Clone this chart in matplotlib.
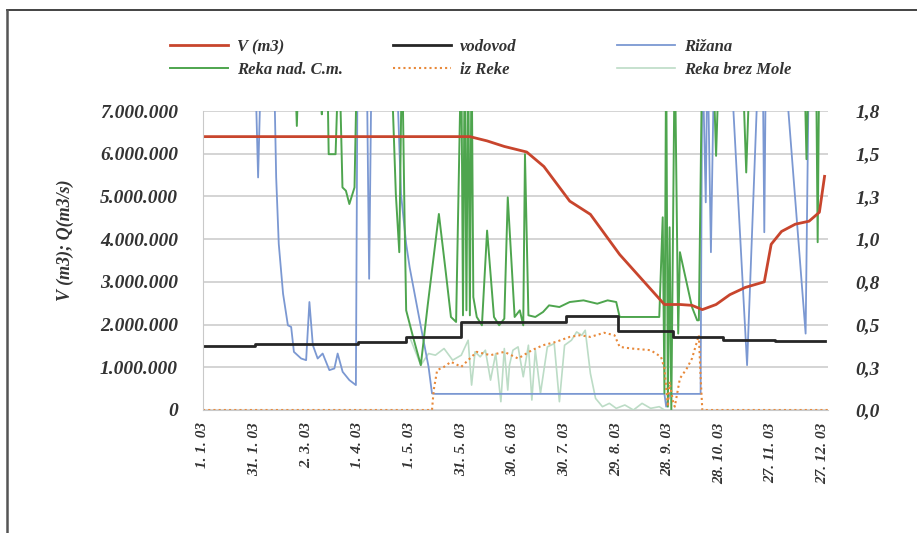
import matplotlib.pyplot as plt
import numpy as np
from matplotlib.lines import Line2D

plt.rcParams['font.family'] = ['Liberation Serif', 'DejaVu Serif']

# day of year 2003 (0 = 1. 1. 03)
tick_days = [0, 30, 60, 90, 120, 150, 180, 210, 240, 270, 300, 330, 360]
tick_labels = ['1. 1. 03', '31. 1. 03', '2. 3. 03', '1. 4. 03', '1. 5. 03', '31. 5. 03',
               '30. 6. 03', '30. 7. 03', '29. 8. 03', '28. 9. 03', '28. 10. 03',
               '27. 11. 03', '27. 12. 03']

v_ticks = [0, 1e6, 2e6, 3e6, 4e6, 5e6, 6e6, 7e6]
v_tick_labels = ['0', '1.000.000', '2.000.000', '3.000.000', '4.000.000',
                 '5.000.000', '6.000.000', '7.000.000']
q_tick_labels = ['0,0', '0,3', '0,5', '0,8', '1,0', '1,3', '1,5', '1,8']

# V (m3) - reservoir volume
v_day = [0, 155, 165, 175, 188, 198, 213, 225, 242, 268, 277, 284, 290, 298, 306,
         315, 326, 330, 336, 344, 352, 358, 361]
v_val = [6.4e6, 6.4e6, 6.3e6, 6.17e6, 6.04e6, 5.7e6, 4.89e6, 4.58e6, 3.64e6, 2.47e6,
         2.47e6, 2.45e6, 2.35e6, 2.47e6, 2.70e6, 2.87e6, 3.0e6, 3.88e6, 4.18e6,
         4.35e6, 4.42e6, 4.63e6, 5.47e6]

# vodovod (m3/s), step series
vod_day = [0, 30, 90, 118, 150, 211, 241, 273, 302, 332, 361]
vod_val = [0.386, 0.399, 0.411, 0.437, 0.527, 0.566, 0.476, 0.437, 0.424, 0.417, 0.417]

# Rizana (m3/s); values above 1.8 run off the top
riz_day = [0, 30, 32, 34, 41, 42.5, 44, 46.5, 49.3, 51.2, 52.8, 57, 59.9, 61.8, 63.8,
           66.6, 69.5, 73.4, 76.3, 78.2, 81.1, 85, 88.8, 89.8, 95, 96.5, 98, 112, 115,
           118, 120, 125, 131, 133, 135, 268, 269, 271, 289, 290, 292, 293, 295, 297,
           306, 316, 323, 325, 326, 327, 337, 350, 352, 363]
riz_val = [2.2, 2.2, 1.40, 2.2, 2.2, 1.4, 1.0, 0.7, 0.51, 0.50, 0.35, 0.31, 0.30, 0.65,
           0.39, 0.31, 0.34, 0.24, 0.25, 0.34, 0.23, 0.18, 0.15, 2.2, 2.2, 0.79, 2.2,
           2.2, 1.3, 1.0, 0.86, 0.585, 0.26, 0.10, 0.097, 0.097, 0.02, 0.097, 0.097,
           2.2, 1.25, 2.2, 0.95, 2.2, 2.2, 0.27, 2.2, 2.2, 1.07, 2.2, 2.2, 0.46, 2.2, 2.2]

# Reka nad C.m. (m3/s)
reka_day = [0, 53, 54.5, 56, 68.5, 69, 69.5, 72, 73, 77, 79, 81, 83, 85, 88, 89.6, 109,
            112, 114, 115.6, 117, 118, 122, 126.5, 130.5, 137, 141, 144, 147, 150, 151,
            152, 153, 154, 155, 156, 157, 159, 162, 165, 169, 172, 175, 177, 181, 184,
            186, 187, 189, 193, 197.5, 201, 207, 213, 221, 229, 235, 240, 242, 265, 267,
            268, 269, 270, 271, 272, 274, 276, 277, 284, 287, 288, 290, 296, 298, 300,
            313, 315.5, 318, 349, 350.5, 352, 356, 357, 358, 363]
reka_val = [2.2, 2.2, 1.71, 2.2, 2.2, 1.78, 2.2, 2.2, 1.54, 1.54, 2.2, 1.34, 1.32, 1.24,
            1.34, 2.2, 2.2, 1.3, 0.95, 2.2, 1.2, 0.6, 0.44, 0.27, 0.63, 1.18, 0.83, 0.56,
            0.53, 2.2, 0.57, 2.2, 0.6, 2.2, 0.57, 2.2, 0.68, 0.56, 0.51, 1.08, 0.56, 0.51,
            0.55, 1.28, 0.56, 0.6, 0.51, 1.54, 0.57, 0.56, 0.59, 0.63, 0.62, 0.65, 0.66,
            0.64, 0.66, 0.65, 0.56, 0.56, 1.16, 0.1, 2.2, 0.02, 1.1, 0.0, 2.2, 0.46, 0.95,
            0.62, 0.54, 0.54, 2.2, 2.2, 1.53, 2.2, 2.2, 1.43, 2.2, 2.2, 1.51, 2.2, 2.2,
            1.01, 2.2, 2.2]

# iz Reke (m3/s)
iz_day = [0, 133, 134, 136, 140, 144, 150, 155, 159, 167, 175, 183, 191, 197.5, 205, 213,
          219, 225, 233, 239, 242, 249, 260, 266, 268, 270, 271, 273, 274, 277, 281, 284,
          288, 289, 290, 363]
iz_val = [0, 0, 0.12, 0.24, 0.26, 0.29, 0.26, 0.31, 0.35, 0.33, 0.35, 0.31, 0.36, 0.39,
          0.41, 0.44, 0.45, 0.44, 0.465, 0.45, 0.38, 0.37, 0.36, 0.32, 0.25, 0.02, 0.17,
          0.05, 0.02, 0.19, 0.25, 0.31, 0.45, 0.2, 0.0, 0.0]

# Reka brez Mole (m3/s)
brez_day = [120, 126.5, 131, 135, 140, 145, 150, 154, 156, 158, 161, 164, 167, 170, 173,
            175, 177, 178, 180, 183, 186, 189, 191, 193, 196, 200, 204, 207, 210, 214, 217,
            220, 222, 225, 228, 232, 236, 240, 245, 250, 255, 260, 265, 268]
brez_val = [0.44, 0.27, 0.34, 0.33, 0.37, 0.30, 0.33, 0.42, 0.15, 0.35, 0.32, 0.36, 0.18,
            0.34, 0.05, 0.37, 0.12, 0.27, 0.36, 0.38, 0.20, 0.39, 0.06, 0.36, 0.10, 0.38,
            0.40, 0.05, 0.39, 0.42, 0.47, 0.45, 0.48, 0.22, 0.07, 0.02, 0.04, 0.01, 0.03,
            0.00, 0.04, 0.01, 0.02, 0.0]

fig = plt.figure(figsize=(9.17, 5.33), dpi=100)
ax = fig.add_axes([203 / 917, 1 - 410 / 533, 625 / 917, 299 / 533])
ax2 = ax.twinx()
ax.set_zorder(ax2.get_zorder() + 1)
ax.patch.set_visible(False)

grid_c = '#c9c9c9'
ax2.set_axisbelow(True)
ax2.set_yticks(np.linspace(0, 1.8, 8))
ax2.set_yticklabels(q_tick_labels)
ax2.set_ylim(0, 1.8)
ax2.grid(True, axis='both', color=grid_c, lw=1.1)
ax2.set_xticks(tick_days)

c_red = '#c8452d'
c_blk = '#262626'
c_blue = '#7b98d2'
c_green = '#4ea54e'
c_pale = '#bcdcc6'
c_orng = '#e8893a'

l_brez, = ax2.plot(brez_day, brez_val, color=c_pale, lw=1.2, label='Reka brez Mole')
l_riz, = ax2.plot(riz_day, riz_val, color=c_blue, lw=1.3, label='Rižana')
l_reka, = ax2.plot(reka_day, reka_val, color=c_green, lw=1.4, label='Reka nad. C.m.')
l_iz, = ax2.plot(iz_day, iz_val, color=c_orng, lw=1.5, ls=(0, (1, 1.5)), label='iz Reke')
l_vod, = ax2.plot(vod_day, vod_val, color=c_blk, lw=2.0, drawstyle='steps-post',
                  label='vodovod')
l_v, = ax.plot(v_day, v_val, color=c_red, lw=2.0, label='V (m3)')

ax.set_xlim(0, 363)
ax.set_ylim(0, 7e6)
ax.set_yticks(v_ticks)
ax.set_yticklabels(v_tick_labels)
ax.set_xticks(tick_days)
ax.set_xticklabels(tick_labels, rotation=90)

tick_font = dict(family='Liberation Serif', style='italic', weight='bold')
for lab in ax.get_yticklabels() + ax2.get_yticklabels():
    lab.set(**tick_font, fontsize=14)
for lab in ax.get_xticklabels():
    lab.set(**tick_font, fontsize=11)
ax.tick_params(axis='both', length=0, colors='#333333')
ax.tick_params(axis='y', pad=18)
ax.tick_params(axis='x', pad=9)
ax2.tick_params(axis='both', length=0, colors='#333333')
ax2.tick_params(axis='y', pad=20)

for a in (ax, ax2):
    for s in a.spines.values():
        s.set_visible(False)
ax.spines['left'].set_visible(True)
ax.spines['left'].set_color(grid_c)
ax.spines['bottom'].set_visible(True)
ax.spines['bottom'].set_color(grid_c)

fig.text(65 / 917, 1 - 240 / 533, 'V (m3); Q(m3/s)', rotation=90, ha='center',
         va='center', fontsize=13, style='italic', weight='bold', color='#333333')

# legend: three columns at fixed places
cols = [([l_v, l_reka], 170), ([l_vod, l_iz], 393), ([l_riz, l_brez], 617)]
for hs, xp in cols:
    leg = fig.legend(hs, [h.get_label() for h in hs], loc='upper left',
                     bbox_to_anchor=(xp / 917, 1 - 39 / 533), frameon=False,
                     borderpad=0, borderaxespad=0, handlelength=3.5,
                     handletextpad=0.5, labelspacing=0.4,
                     prop=dict(family='Liberation Serif', style='italic',
                               weight='bold', size=12))
    for t in leg.get_texts():
        t.set_color('#333333')

# outer frame (top and left edge)
fig.add_artist(Line2D([7 / 917, 1], [1 - 10 / 533, 1 - 10 / 533], color='#222222', lw=1.2))
fig.add_artist(Line2D([7 / 917, 7 / 917], [0, 1 - 10 / 533], color='#555555', lw=1.8))

fig.savefig('out.png', dpi=100)
